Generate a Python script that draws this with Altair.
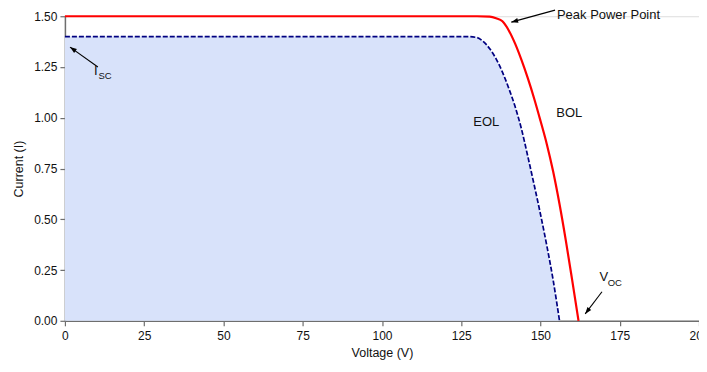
import altair as alt
import pandas as pd

# BOL curve (red)
bol_v = [0, 130, 134, 136, 138, 140, 142, 144, 146, 148, 150, 152, 154, 156, 158, 160, 162]
bol_i = [1.5, 1.5, 1.498, 1.49, 1.475, 1.43, 1.365, 1.285, 1.195, 1.095, 0.985, 0.87, 0.735, 0.575, 0.395, 0.2, 0.0]

# EOL curve (navy dashed, shaded below)
eol_v = [0, 127, 130, 132, 134, 136, 138, 140, 142, 144, 146, 148, 150, 152, 154, 156]
eol_i = [1.4, 1.4, 1.395, 1.375, 1.34, 1.29, 1.225, 1.145, 1.055, 0.945, 0.81, 0.67, 0.525, 0.37, 0.2, 0.0]

# annotation arrows (tail -> head), data units, head angle in degrees
arr_x1 = [154.6, 10.4, 169.4]
arr_y1 = [1.53, 1.25, 0.143]
arr_x2 = [140.8, 1.6, 164.1]
arr_y2 = [1.471, 1.348, 0.034]
arr_ang = [254.7, 305.5, 217.7]

# main labels
lab_text = ["Peak Power Point", "EOL", "BOL", "I", "V"]
lab_x = [155.2, 128.8, 155.0, 9.2, 168.6]
lab_y = [1.505, 0.979, 1.023, 1.232, 0.214]

# subscripts
sub_text = ["SC", "OC"]
sub_x = [10.6, 171.2]
sub_y = [1.205, 0.188]

x_ticks = [0, 25, 50, 75, 100, 125, 150, 175, 200]
y_ticks = [0, 0.25, 0.5, 0.75, 1.0, 1.25, 1.5]

bol = pd.DataFrame({"v": bol_v, "i": bol_i})
eol = pd.DataFrame({"v": eol_v, "i": eol_i})
arrows = pd.DataFrame({"x1": arr_x1, "y1": arr_y1, "x2": arr_x2, "y2": arr_y2, "ang": arr_ang})
labels = pd.DataFrame({"t": lab_text, "x": lab_x, "y": lab_y})
subs = pd.DataFrame({"t": sub_text, "x": sub_x, "y": sub_y})

FONT = "Liberation Sans"

xscale = alt.Scale(domain=[0, 200], nice=False, zero=False)
yscale = alt.Scale(domain=[0, 1.5], nice=False)

xaxis = alt.Axis(title="Voltage (V)", values=x_ticks, format="d", grid=False,
                 labelFont=FONT, labelFontSize=12, labelColor="#111",
                 titleFont=FONT, titleFontSize=12.5, titleFontWeight="normal", titleColor="#111",
                 domainColor="#6e6e6e", domainWidth=1.5, tickColor="#6e6e6e", tickWidth=1.2,
                 tickSize=5, labelPadding=5, titlePadding=5, labelFlush=False)
yaxis = alt.Axis(title="Current (I)", values=y_ticks, format=".2f", grid=False,
                 labelFont=FONT, labelFontSize=12, labelColor="#111",
                 titleFont=FONT, titleFontSize=12.5, titleFontWeight="normal", titleColor="#111",
                 domainColor="#6e6e6e", domainWidth=1.5, tickColor="#6e6e6e", tickWidth=1.2,
                 tickSize=5, labelPadding=3, titlePadding=8, labelFlush=False)

area = alt.Chart(eol).mark_area(interpolate="monotone", color="#d8e2fa").encode(
    x=alt.X("v:Q", scale=xscale, axis=xaxis),
    y=alt.Y("i:Q", scale=yscale, axis=yaxis),
)

eol_line = alt.Chart(eol).mark_line(interpolate="monotone", color="#000080",
                                    strokeWidth=1.7, strokeDash=[5, 2]).encode(
    x=alt.X("v:Q", scale=xscale), y=alt.Y("i:Q", scale=yscale))

bol_line = alt.Chart(bol).mark_line(interpolate="monotone", color="#ff0000",
                                    strokeWidth=2.2).encode(
    x=alt.X("v:Q", scale=xscale), y=alt.Y("i:Q", scale=yscale))

shafts = alt.Chart(arrows).mark_rule(color="black", strokeWidth=1.1).encode(
    x=alt.X("x1:Q", scale=xscale), y=alt.Y("y1:Q", scale=yscale),
    x2="x2:Q", y2="y2:Q")

heads = alt.Chart(arrows).mark_point(shape="M0,0L-0.6,1.7L0.6,1.7Z", filled=True,
                                     color="black", opacity=1, size=64).encode(
    x=alt.X("x2:Q", scale=xscale), y=alt.Y("y2:Q", scale=yscale),
    angle=alt.Angle("ang:Q", scale=None))

texts = alt.Chart(labels).mark_text(align="left", baseline="middle", font=FONT,
                                    fontSize=13, color="#111").encode(
    x=alt.X("x:Q", scale=xscale), y=alt.Y("y:Q", scale=yscale), text="t:N")

subtexts = alt.Chart(subs).mark_text(align="left", baseline="middle", font=FONT,
                                     fontSize=9.5, color="#111").encode(
    x=alt.X("x:Q", scale=xscale), y=alt.Y("y:Q", scale=yscale), text="t:N")

chart = alt.layer(area, eol_line, bol_line, shafts, heads, texts, subtexts).properties(
    width=635, height=305,
    autosize=alt.AutoSizeParams(type="none"),
    padding={"left": 57, "top": 8, "right": 0, "bottom": 40},
).configure_view(stroke=None).configure(background="white")

chart.save("out.html", embed_options={"renderer": "svg", "actions": False})
